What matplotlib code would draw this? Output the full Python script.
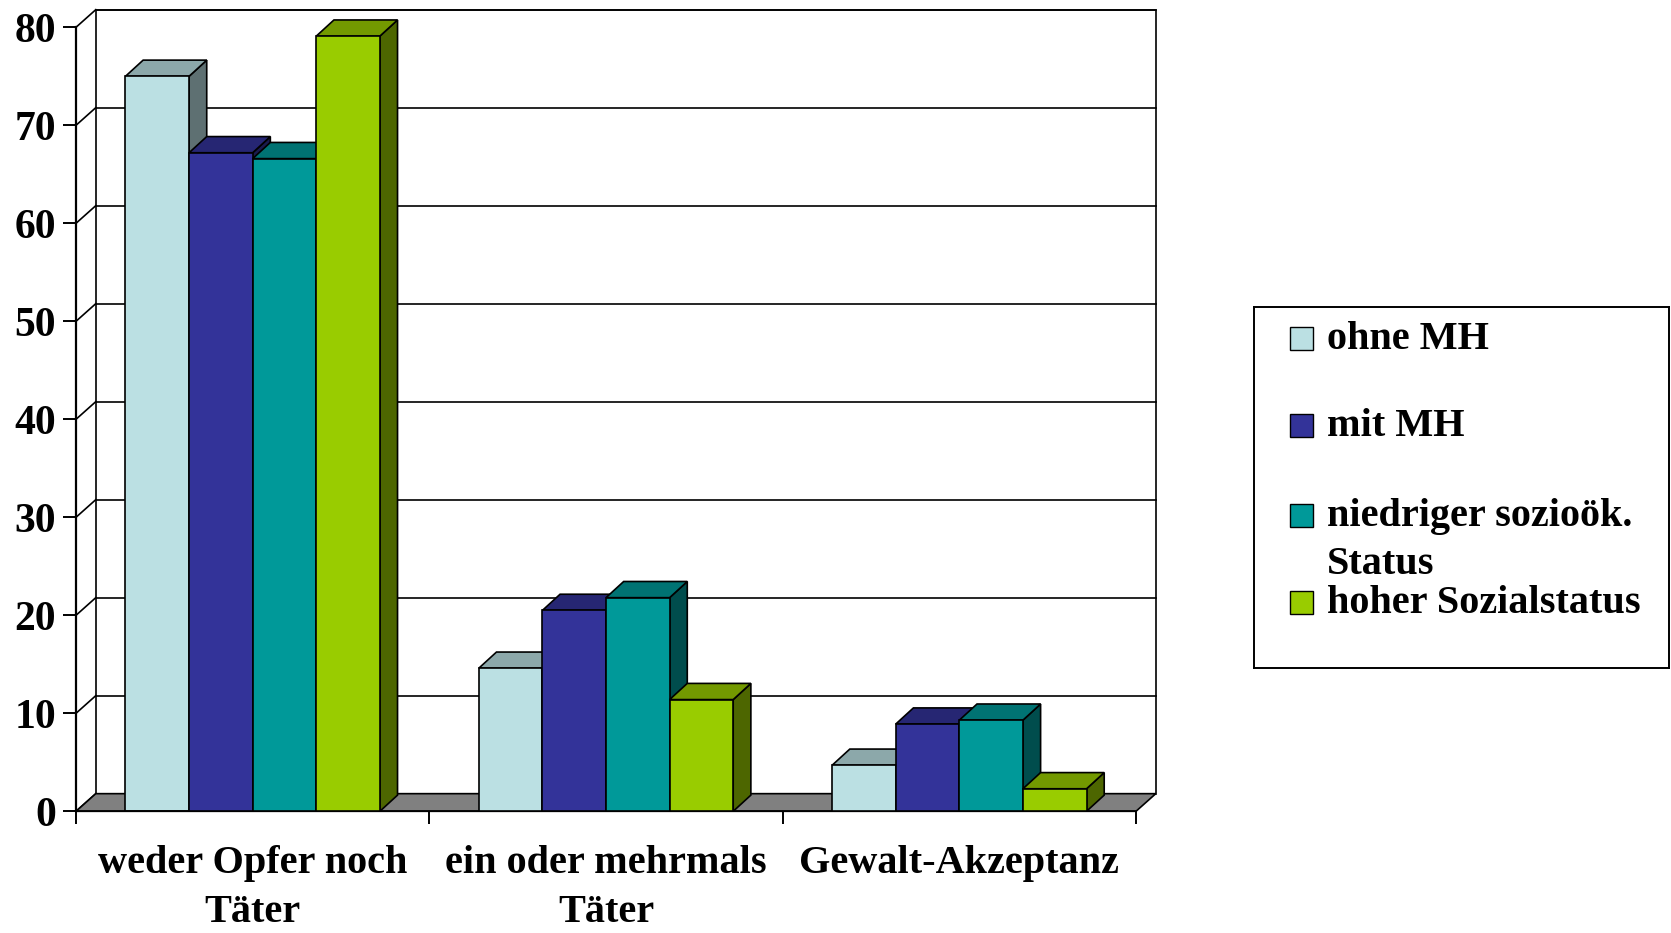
#!/usr/bin/env python
import numpy as np
import matplotlib as mpl
import matplotlib.pyplot as plt
from matplotlib.patches import Polygon, Rectangle

mpl.use('agg')
mpl.rcParams['font.family'] = ['Liberation Serif', 'DejaVu Serif']
mpl.rcParams['font.weight'] = 'bold'

############################################################
# data
############################################################
categories = ['weder Opfer noch\nTäter', 'ein oder mehrmals\nTäter', 'Gewalt-Akzeptanz']
series     = ['ohne MH', 'mit MH', 'niedriger sozioök.\nStatus', 'hoher Sozialstatus']
ohne_mh    = [75.0, 14.6, 4.7]
mit_mh     = [67.2, 20.5, 8.9]
niedrig    = [66.6, 21.8, 9.3]
hoch       = [79.1, 11.4, 2.3]
colors     = ['#BBE0E3', '#333399', '#009999', '#99CC00']
yticks     = np.arange(0, 81, 10)

values = [ohne_mh, mit_mh, niedrig, hoch]

############################################################
W, H = 1671, 933
fig = plt.figure(figsize=(W / 100, H / 100), dpi=100)
ax  = fig.add_axes([76 / W, 121.7 / H, 1060 / W, 784 / H])
ax.set_xlim(0, 3)
ax.set_ylim(0, 80)

# depth offsets (walls / bars) in data units
wdx, wdy = 0.056, 1.8
bdx, bdy = 0.050, 1.65

def shade(c, f):
    r, g, b = mpl.colors.to_rgb(c)
    return (r * f, g * f, b * f)

# back wall, floor, side wall lines
ax.add_patch(Rectangle((wdx, wdy), 3, 80, facecolor='white', edgecolor='black',
                       lw=1.2, zorder=0, clip_on=False))
ax.add_patch(Polygon([(0, 0), (3, 0), (3 + wdx, wdy), (wdx, wdy)], closed=True,
                     facecolor='#808080', edgecolor='black', lw=1.2, zorder=1,
                     clip_on=False))
for v in yticks[1:]:
    ax.plot([wdx, 3 + wdx], [v + wdy, v + wdy], color='black', lw=1.2,
            zorder=0.5, clip_on=False)
for v in yticks:
    ax.plot([0, wdx], [v, v + wdy], color='black', lw=1.2, zorder=0.5,
            clip_on=False)

# bars
bw  = 0.18
off = (1 - 4 * bw) / 2
for i in range(len(categories)):
    for j, vals in enumerate(values):
        x0 = i + off + j * bw
        h  = vals[i]
        c  = colors[j]
        z  = 2 + i * 4 + j
        ax.add_patch(Polygon([(x0 + bw, 0), (x0 + bw + bdx, bdy),
                              (x0 + bw + bdx, h + bdy), (x0 + bw, h)],
                             closed=True, facecolor=shade(c, 0.5),
                             edgecolor='black', lw=1.2, zorder=z, clip_on=False))
        ax.add_patch(Polygon([(x0, h), (x0 + bw, h), (x0 + bw + bdx, h + bdy),
                              (x0 + bdx, h + bdy)],
                             closed=True, facecolor=shade(c, 0.75),
                             edgecolor='black', lw=1.2, zorder=z, clip_on=False))
        ax.add_patch(Rectangle((x0, 0), bw, h, facecolor=c, edgecolor='black',
                               lw=1.2, zorder=z, clip_on=False))

############################################################
for s in ['top', 'right']:
    ax.spines[s].set_visible(False)
ax.spines['left'].set_linewidth(1.6)
ax.spines['bottom'].set_linewidth(1.2)
ax.spines['left'].set_zorder(30)
ax.patch.set_visible(False)

ax.set_yticks(yticks)
ax.set_yticklabels([str(v) for v in yticks], fontsize=30, fontweight='bold')
ax.tick_params(axis='y', direction='out', length=9.4, width=1.4, pad=5)

ax.set_xticks([0, 1, 2, 3])
ax.set_xticklabels([])
ax.tick_params(axis='x', which='major', direction='out', length=9.4, width=1.4)
ax.set_xticks([0.5, 1.5, 2.5], minor=True)
ax.set_xticklabels(categories, minor=True, fontsize=29, fontweight='bold',
                   linespacing=1.45)
ax.tick_params(axis='x', which='minor', length=0, pad=24)

############################################################
# legend
lx0, lx1, ly0, ly1 = 1254, 1669, 306.7, 668
lax = fig.add_axes([lx0 / W, (H - ly1) / H, (lx1 - lx0) / W, (ly1 - ly0) / H])
lax.set_xlim(lx0, lx1)
lax.set_ylim(ly1, ly0)
lax.set_xticks([])
lax.set_yticks([])
for s in lax.spines.values():
    s.set_linewidth(1.4)

rows = [338, 425, 515, 602]
for c, lab, y in zip(colors, series, rows):
    lax.add_patch(Rectangle((1290, y - 11.5), 23, 23, facecolor=c,
                            edgecolor='black', lw=1.0))
    lax.text(1327, y - 17, lab, fontsize=29, fontweight='bold', va='top',
             ha='left', linespacing=1.4)

plt.savefig('out.png', dpi=100)
